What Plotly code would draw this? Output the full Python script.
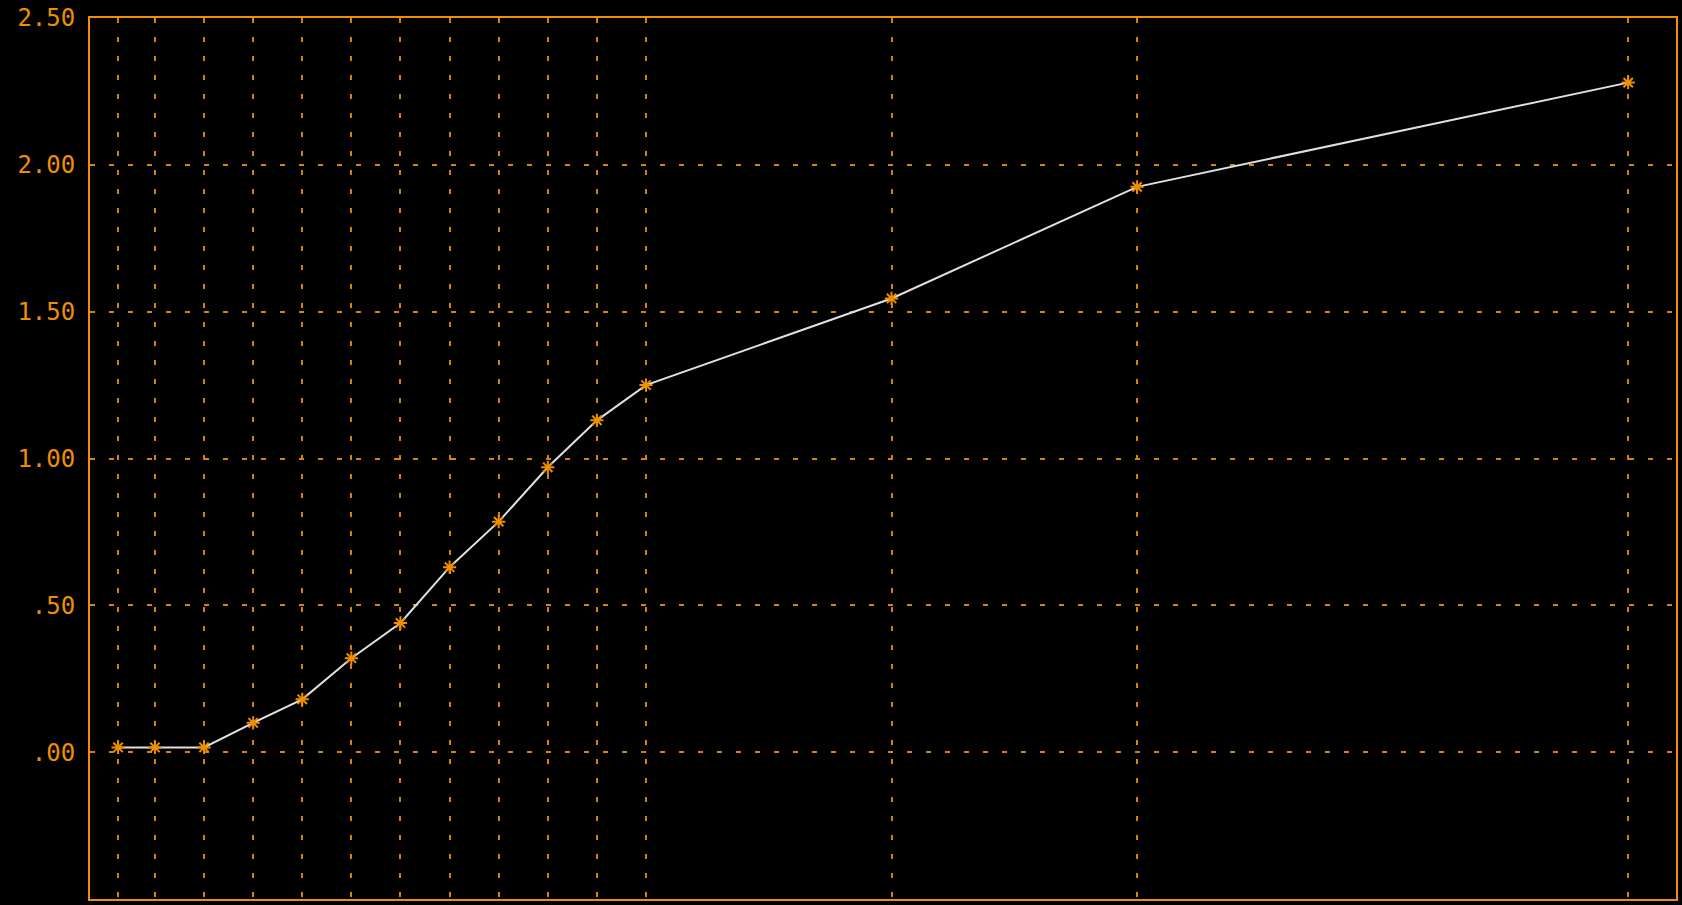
import plotly.graph_objects as go

# Data
x_vals = [0.25, 1, 2, 3, 4, 5, 6, 7, 8, 9, 10, 11, 16, 21, 31]
y_vals = [0.016, 0.016, 0.016, 0.10, 0.18, 0.32, 0.44, 0.63, 0.785, 0.97, 1.13, 1.25, 1.545, 1.925, 2.28]
y_ticks = [0, 0.5, 1.0, 1.5, 2.0, 2.5]
y_tick_labels = [".00", ".50", "1.00", "1.50", "2.00", "2.50"]

ORANGE = "#EE8E00"
GRID = "#D88400"

fig = go.Figure()
fig.add_trace(go.Scatter(
    x=x_vals, y=y_vals, mode="lines+markers",
    line=dict(color="#E0E0E0", width=2),
    marker=dict(symbol="asterisk-open", size=11, color=ORANGE,
                line=dict(color=ORANGE, width=2)),
    showlegend=False, hoverinfo="skip",
))

fig.update_layout(
    width=1682, height=905,
    paper_bgcolor="black", plot_bgcolor="black",
    margin=dict(l=90, r=4, t=16, b=6),
    font=dict(family="DejaVu Sans Mono", size=24, color=ORANGE),
)
fig.update_xaxes(
    range=[-0.322, 31.974], tickvals=x_vals, showticklabels=False,
    showgrid=True, gridcolor=GRID, gridwidth=2, griddash="5px,14px",
    zeroline=False, showline=True, linecolor=ORANGE, linewidth=2, mirror=True,
    ticks="",
)
fig.update_yaxes(
    range=[-0.5, 2.5], tickvals=y_ticks, ticktext=y_tick_labels,
    showgrid=True, gridcolor=GRID, gridwidth=2, griddash="5px,14px",
    zeroline=False, showline=True, linecolor=ORANGE, linewidth=2, mirror=True,
    ticks="outside", ticklen=8, tickcolor="rgba(0,0,0,0)",
    tickfont=dict(family="DejaVu Sans Mono", size=24, color=ORANGE),
)

fig.write_html("out.html", config={"displayModeBar": False})
